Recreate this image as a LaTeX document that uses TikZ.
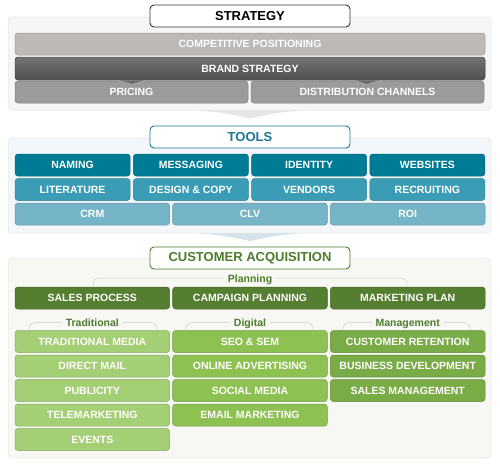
\documentclass[tikz,border=0pt]{standalone}
\usepackage{fontspec}
\setmainfont{Liberation Sans}
\definecolor{cpcol}{HTML}{BDB9B7}
\definecolor{bscol}{HTML}{5C5C5C}
\definecolor{prcol}{HTML}{9B9B9B}
\definecolor{tone}{HTML}{007B96}
\definecolor{ttwo}{HTML}{3A9DB5}
\definecolor{tthree}{HTML}{76B5C7}
\definecolor{gplan}{HTML}{557E30}
\definecolor{gtrad}{HTML}{A5CF75}
\definecolor{gdig}{HTML}{8DC152}
\definecolor{gman}{HTML}{79AB46}
\definecolor{sbg}{HTML}{F6F6F6}
\definecolor{tbg}{HTML}{F3F7F9}
\definecolor{cbg}{HTML}{F7F7F3}
\definecolor{teal}{HTML}{1C7894}
\definecolor{dgreen}{HTML}{4C7C2C}
\definecolor{wedgeg}{HTML}{E6E6E6}
\definecolor{wedgeb}{HTML}{D4E4EA}
\begin{document}
\begin{tikzpicture}[x=1pt,y=-1pt,
  box/.style={rounded corners=3pt, draw=#1!82!black, fill=#1, text=white,
    font=\bfseries\fontsize{10.5}{12}\selectfont, inner sep=0pt,
    minimum height=22, line width=0.5pt},
  title/.style={rounded corners=4pt, draw=#1, fill=white, text=#1, line width=0.9pt,
    font=\bfseries\fontsize{13}{15}\selectfont, inner sep=0pt,
    minimum width=200, minimum height=22},
  panel/.style={rounded corners=4pt, fill=#1, draw=#1!92!black, line width=0.5pt},
  bracket/.style={draw=black!15, line width=0.7pt, rounded corners=6pt},
  chev/.style={fill=bscol!90!white, draw=white!70!black, line width=0.6pt},
  lab/.style={fill=cbg, text=dgreen, inner xsep=4pt, inner ysep=1pt,
    font=\bfseries\fontsize{10.5}{12}\selectfont}]
\useasboundingbox (0,0) rectangle (500,466);
% wedges
\fill[wedgeg] (196,110) .. controls (225,113) .. (250,118.5) .. controls (275,113) .. (304,110) -- cycle;
\fill[wedgeb] (198,233) .. controls (226,236) .. (250,241) .. controls (274,236) .. (302,233) -- cycle;
% panels
\path[panel=sbg] (8,17) rectangle (491,110);
\path[panel=tbg] (8,138) rectangle (491,233);
\path[panel=cbg] (8,258) rectangle (491,458);
% strategy
\node[title=black!80] (strat) at (250,16) {\textcolor{black}{STRATEGY}};
\node[box=cpcol, minimum width=470] (cp) at (250,44) {COMPETITIVE POSITIONING};
\node[box=prcol, minimum width=233] (pr) at (131.5,92) {PRICING};
\node[box=prcol, minimum width=233] (dc) at (367.5,92) {DISTRIBUTION CHANNELS};
\node[box=bscol, minimum width=470, minimum height=23, top color=bscol!85!white, bottom color=bscol!85!black] (bs) at (250,68.5) {BRAND STRATEGY};
\path[chev] (118,80.3) -- (132,84.5) -- (146,80.3);
\path[chev] (353,80.3) -- (367,84.5) -- (381,80.3);
% tools
\node[title=teal] (tools) at (250,137) {TOOLS};
\node[box=tone, minimum width=115] (naming) at (72.6,165) {NAMING};
\node[box=tone, minimum width=115] (messaging) at (190.9,165) {MESSAGING};
\node[box=tone, minimum width=115] (identity) at (309.1,165) {IDENTITY};
\node[box=tone, minimum width=115] (websites) at (427.4,165) {WEBSITES};
\node[box=ttwo, minimum width=115] (literature) at (72.6,189.5) {LITERATURE};
\node[box=ttwo, minimum width=115] (design) at (190.9,189.5) {DESIGN \& COPY};
\node[box=ttwo, minimum width=115] (vendors) at (309.1,189.5) {VENDORS};
\node[box=ttwo, minimum width=115] (recruiting) at (427.4,189.5) {RECRUITING};
\node[box=tthree, minimum width=154.6] (crm) at (92.3,214) {CRM};
\node[box=tthree, minimum width=154.6] (clv) at (250,214) {CLV};
\node[box=tthree, minimum width=154.6] (roi) at (407.7,214) {ROI};
% customer acquisition
\node[title=dgreen] (ca) at (250,258) {CUSTOMER ACQUISITION};
\draw[bracket] (93,286) -- (93,278) -- (407,278) -- (407,286);
\node[lab, anchor=base] (planning) at (250,282.5) {Planning};
\draw[bracket] (29,330) -- (29,322.5) -- (157,322.5) -- (157,330);
\draw[bracket] (186,330) -- (186,322.5) -- (313,322.5) -- (313,330);
\draw[bracket] (343,330) -- (343,322.5) -- (470,322.5) -- (470,330);
\node[lab, anchor=base] (trad) at (92.3,326.5) {Traditional};
\node[lab, anchor=base] (dig) at (250,326.5) {Digital};
\node[lab, anchor=base] (man) at (407.7,326.5) {Management};
\node[box=gplan, minimum width=154.6] (sales) at (92.3,298) {SALES PROCESS};
\node[box=gplan, minimum width=154.6] (campaign) at (250,298) {CAMPAIGN PLANNING};
\node[box=gplan, minimum width=154.6] (mplan) at (407.7,298) {MARKETING PLAN};
\node[box=gtrad, minimum width=154.6] (tm) at (92.3,341.5) {TRADITIONAL MEDIA};
\node[box=gtrad, minimum width=154.6] (dm) at (92.3,366) {DIRECT MAIL};
\node[box=gtrad, minimum width=154.6] (pub) at (92.3,390.5) {PUBLICITY};
\node[box=gtrad, minimum width=154.6] (tel) at (92.3,415) {TELEMARKETING};
\node[box=gtrad, minimum width=154.6] (ev) at (92.3,439.5) {EVENTS};
\node[box=gdig, minimum width=154.6] (seo) at (250,341.5) {SEO \& SEM};
\node[box=gdig, minimum width=154.6] (oa) at (250,366) {ONLINE ADVERTISING};
\node[box=gdig, minimum width=154.6] (sm) at (250,390.5) {SOCIAL MEDIA};
\node[box=gdig, minimum width=154.6] (em) at (250,415) {EMAIL MARKETING};
\node[box=gman, minimum width=154.6] (cr) at (407.7,341.5) {CUSTOMER RETENTION};
\node[box=gman, minimum width=154.6] (bd) at (407.7,366) {BUSINESS DEVELOPMENT};
\node[box=gman, minimum width=154.6] (smg) at (407.7,390.5) {SALES MANAGEMENT};
\end{tikzpicture}
\end{document}
